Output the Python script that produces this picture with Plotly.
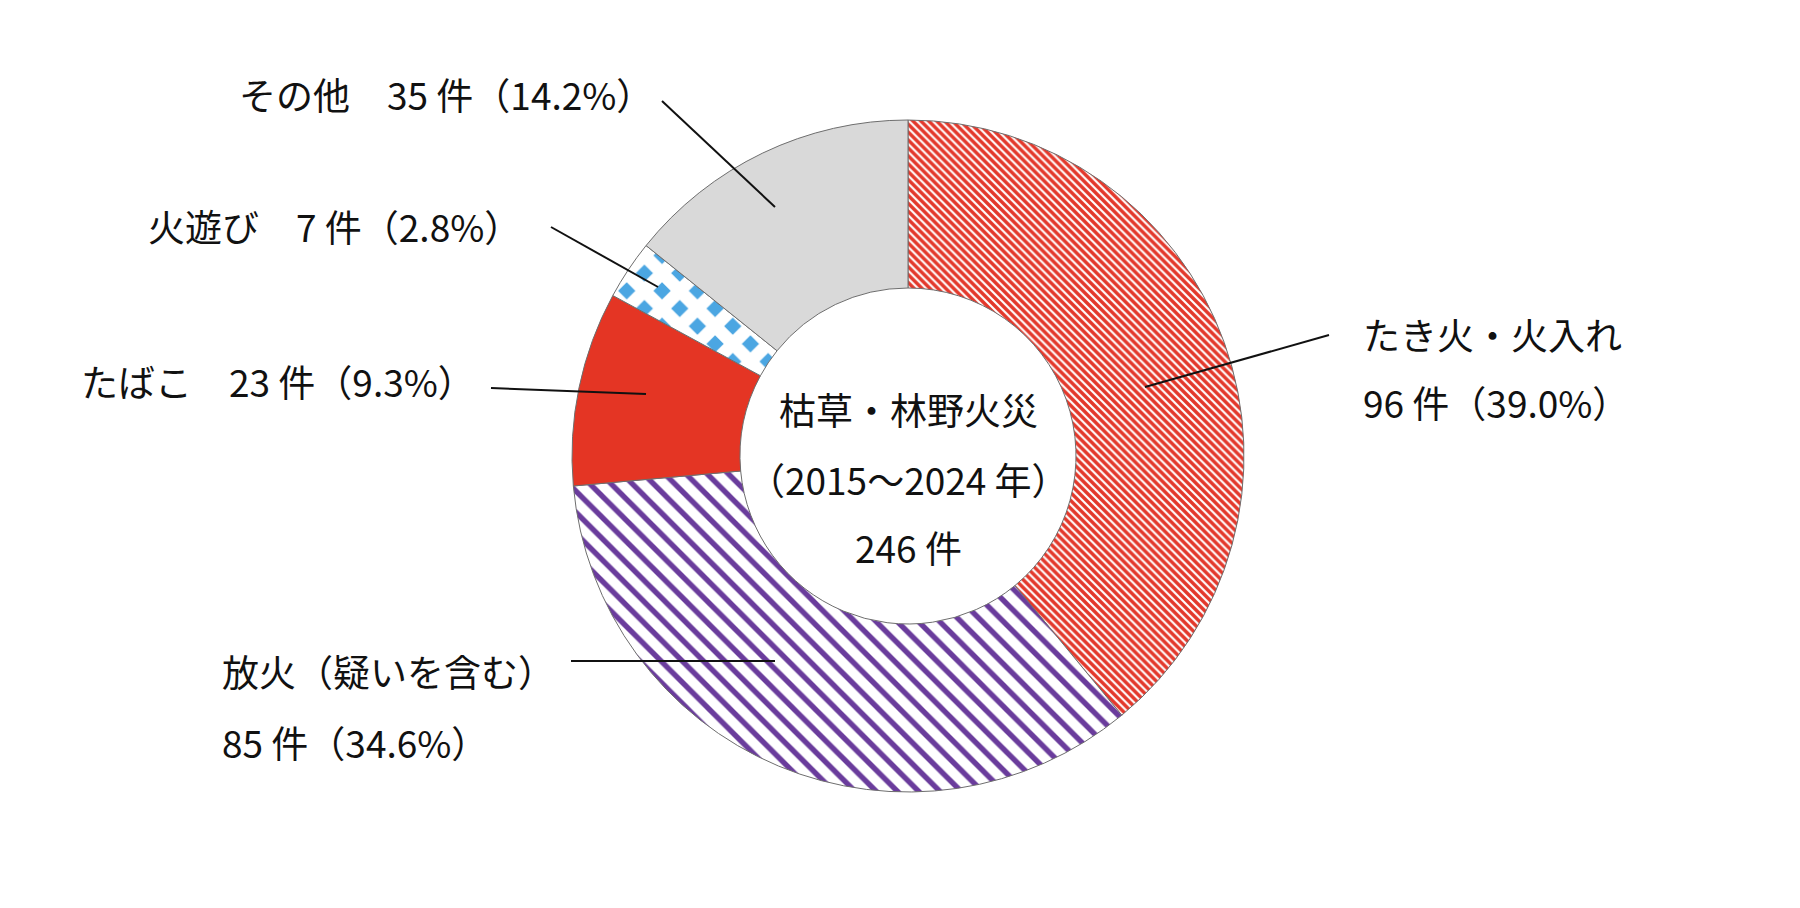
import plotly.graph_objects as go

# ---- data ----
categories = ["たき火・火入れ", "放火（疑いを含む）", "たばこ", "火遊び", "その他"]
counts = [96, 85, 23, 7, 35]
percents = ["39.0", "34.6", "9.3", "2.8", "14.2"]
center_lines = ["枯草・林野火災", "（2015～2024 年）", "246 件"]

# ---- styles ----
fills = ["#ffffff", "#ffffff", "#e43524", "#4ba6e2", "#d9d9d9"]
pat_shapes = ["\\", "\\", "", "x", ""]
pat_fg = ["#e3382b", "#6a3c9c", "#e43524", "#ffffff", "#d9d9d9"]
pat_bg = ["#ffffff", "#ffffff", "#e43524", "#4ba6e2", "#d9d9d9"]
pat_size = [5.6, 15, 8, 25, 8]
pat_solid = [0.62, 0.36, 0.3, 0.76, 0.3]

W, H = 1800, 908
OFF = 8  # default body margin of the html page
FONT = "Noto Sans CJK JP"
FS = 37


def px(x):
    return (x - OFF) / W


def py(y):
    return 1 - (y - OFF) / H


cx, cy, R = 908, 456, 336

fig = go.Figure(go.Pie(
    labels=categories,
    values=counts,
    sort=False,
    direction="clockwise",
    rotation=0,
    hole=0.5,
    textinfo="none",
    hoverinfo="label+value+percent",
    showlegend=False,
    marker=dict(
        colors=fills,
        line=dict(color="#6e6e6e", width=1),
        pattern=dict(
            shape=pat_shapes,
            fgcolor=pat_fg,
            bgcolor=pat_bg,
            size=pat_size,
            solidity=pat_solid,
            fgopacity=1,
            fillmode="replace",
        ),
    ),
    domain=dict(x=[px(cx - R), px(cx + R)], y=[py(cy + R), py(cy - R)]),
))

annotations = []
shapes = []


def label(text, x, y, anchor):
    annotations.append(dict(
        text=text, x=px(x), y=py(y), xref="paper", yref="paper",
        xanchor=anchor, yanchor="middle", showarrow=False,
        font=dict(family=FONT, size=FS, color="#111111"),
    ))


def leader(x0, y0, x1, y1):
    shapes.append(dict(type="line", xref="paper", yref="paper",
                       x0=px(x0), y0=py(y0), x1=px(x1), y1=py(y1),
                       line=dict(color="#111111", width=2)))


def lab(i):
    return f"{counts[i]} 件（{percents[i]}%）"


# たき火・火入れ (right)
label(categories[0], 1361, 334, "left")
label(lab(0), 1361, 402, "left")
leader(1329, 335, 1145, 387)

# 放火
label(categories[1], 220, 671, "left")
label(lab(1), 220, 742, "left")
leader(571, 661, 775, 661)

# たばこ
label(f"{categories[2]}　{lab(2)}", 477, 381, "right")
leader(491, 388, 646, 394)

# 火遊び
label(f"{categories[3]}　{lab(3)}", 523, 226, "right")
leader(551, 227, 658, 287)

# その他
label(f"{categories[4]}　{lab(4)}", 655, 94, "right")
leader(662, 101, 775, 207)

# center text
for t, y in zip(center_lines, [409, 479, 547]):
    label(t, cx, y, "center")

fig.update_layout(
    width=W, height=H,
    margin=dict(l=0, r=0, t=0, b=0),
    paper_bgcolor="#ffffff",
    plot_bgcolor="#ffffff",
    annotations=annotations,
    shapes=shapes,
    font=dict(family=FONT),
)

fig.write_html("out.html")
